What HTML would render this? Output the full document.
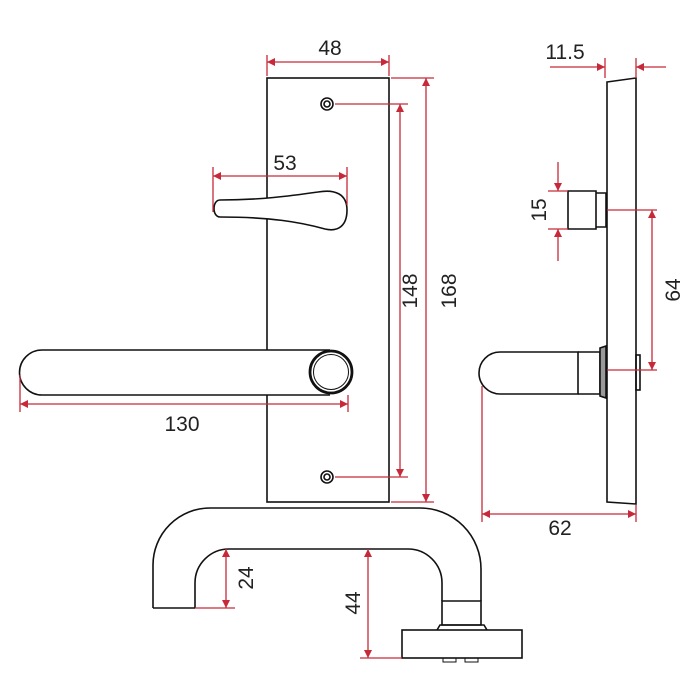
<!DOCTYPE html>
<html><head><meta charset="utf-8"><style>
html,body{margin:0;padding:0;background:#fff;width:700px;height:700px;overflow:hidden}
text{font-family:"Liberation Sans",sans-serif;font-size:21px;fill:#222}
</style></head><body>
<svg width="700" height="700" viewBox="0 0 700 700" xmlns="http://www.w3.org/2000/svg">
<defs>
<marker id="a" viewBox="0 0 10 10" refX="10" refY="5" markerWidth="12" markerHeight="8" orient="auto-start-reverse" markerUnits="userSpaceOnUse"><path d="M0,0 L10,5 L0,10 z" fill="#c62a3a"/></marker>
</defs>
<g fill="none" stroke="#111" stroke-width="1.6">
<rect x="267" y="78" width="122" height="424"/>
<circle cx="327" cy="104" r="6"/><circle cx="327" cy="104" r="3"/>
<circle cx="327" cy="477" r="6"/><circle cx="327" cy="477" r="3"/>
<path d="M220 200 C260 200 290 196 318 192 C335 189 347 194 347 210 C347 226 338 232 325 229 C300 222 270 217 220 217 C212 217 212 200 220 200 Z" fill="#fff"/>
<path d="M330 350 L42 350 A22.5 22.5 0 0 0 42 395 L330 395" fill="#fff"/>
<circle cx="331" cy="372" r="21" stroke-width="2.8" fill="#fff"/>
<circle cx="331" cy="372" r="17.5" stroke-width="1"/>
<path d="M607 82 L636 78 L636 504 L607 502 Z"/>
<path d="M568 191 L596 191 L596 229 L568 229 Z M596 193 L606 193 L606 227 L596 227"/>
<path d="M500 352 L578 352 L578 394 L500 394 A21 21 0 0 1 500 352 Z"/>
<path d="M578 352 L600 352 L600 394 L578 394"/>
<path d="M600 348 L606 346 L606 398 L600 396 Z" fill="#999"/>
<rect x="636" y="355" width="4" height="35"/>
<path d="M153 608 L153 565 A57 57 0 0 1 210 508 L420 508 A61 61 0 0 1 481 569 L481 601"/>
<path d="M195 608 L195 583 A34 34 0 0 1 229 549 L408 549 A34 34 0 0 1 442 583 L442 601"/>
<path d="M153 608 L195 608"/>
<path d="M442 601 L481 601 L481 625 L442 625 Z"/>
<path d="M437 630 L440 625 L484 625 L487 630"/>
<rect x="402" y="630" width="120" height="28"/>
<rect x="443" y="658" width="13" height="4" stroke-width="1"/>
<rect x="465" y="658" width="13" height="4" stroke-width="1"/>
</g>
<g stroke="#c62a3a" stroke-width="1.3" fill="none">
<path d="M267 55 V76 M389 55 V76"/>
<line x1="267" y1="62" x2="389" y2="62" marker-start="url(#a)" marker-end="url(#a)"/>
<path d="M335 104 H408 M335 477 H408"/>
<line x1="400" y1="104" x2="400" y2="477" marker-start="url(#a)" marker-end="url(#a)"/>
<path d="M391 78 H434 M391 502 H434"/>
<line x1="426" y1="78" x2="426" y2="502" marker-start="url(#a)" marker-end="url(#a)"/>
<path d="M213 167 V212 M347 167 V205"/>
<line x1="213" y1="176" x2="347" y2="176" marker-start="url(#a)" marker-end="url(#a)"/>
<path d="M20 375 V412 M348 395 V412"/>
<line x1="20" y1="404" x2="348" y2="404" marker-start="url(#a)" marker-end="url(#a)"/>
<path d="M605 58 V78 M636 58 V78"/>
<line x1="550" y1="67" x2="605" y2="67" marker-end="url(#a)"/>
<line x1="666" y1="67" x2="636" y2="67" marker-end="url(#a)"/>
<path d="M548 191 H568 M548 229 H568"/>
<line x1="558" y1="162" x2="558" y2="191" marker-end="url(#a)"/>
<line x1="558" y1="261" x2="558" y2="229" marker-end="url(#a)"/>
<path d="M607 210 H657 M607 370 H657"/>
<line x1="652" y1="210" x2="652" y2="370" marker-start="url(#a)" marker-end="url(#a)"/>
<path d="M482 386 V522 M636 505 V522"/>
<line x1="482" y1="514" x2="636" y2="514" marker-start="url(#a)" marker-end="url(#a)"/>
<path d="M195 608 H235"/>
<line x1="226" y1="549" x2="226" y2="608" marker-start="url(#a)" marker-end="url(#a)"/>
<path d="M360 658 H402"/>
<line x1="368" y1="549" x2="368" y2="658" marker-start="url(#a)" marker-end="url(#a)"/>
</g>
<text x="330" y="55" text-anchor="middle">48</text>
<text x="285" y="170" text-anchor="middle">53</text>
<text x="182" y="431" text-anchor="middle">130</text>
<text x="565" y="59" text-anchor="middle">11.5</text>
<text x="560" y="535" text-anchor="middle">62</text>
<text transform="translate(417,291) rotate(-90)" text-anchor="middle">148</text>
<text transform="translate(456,291) rotate(-90)" text-anchor="middle">168</text>
<text transform="translate(546,210) rotate(-90)" text-anchor="middle">15</text>
<text transform="translate(680,290) rotate(-90)" text-anchor="middle">64</text>
<text transform="translate(253,578) rotate(-90)" text-anchor="middle">24</text>
<text transform="translate(360,603) rotate(-90)" text-anchor="middle">44</text>
</svg>
</body></html>
